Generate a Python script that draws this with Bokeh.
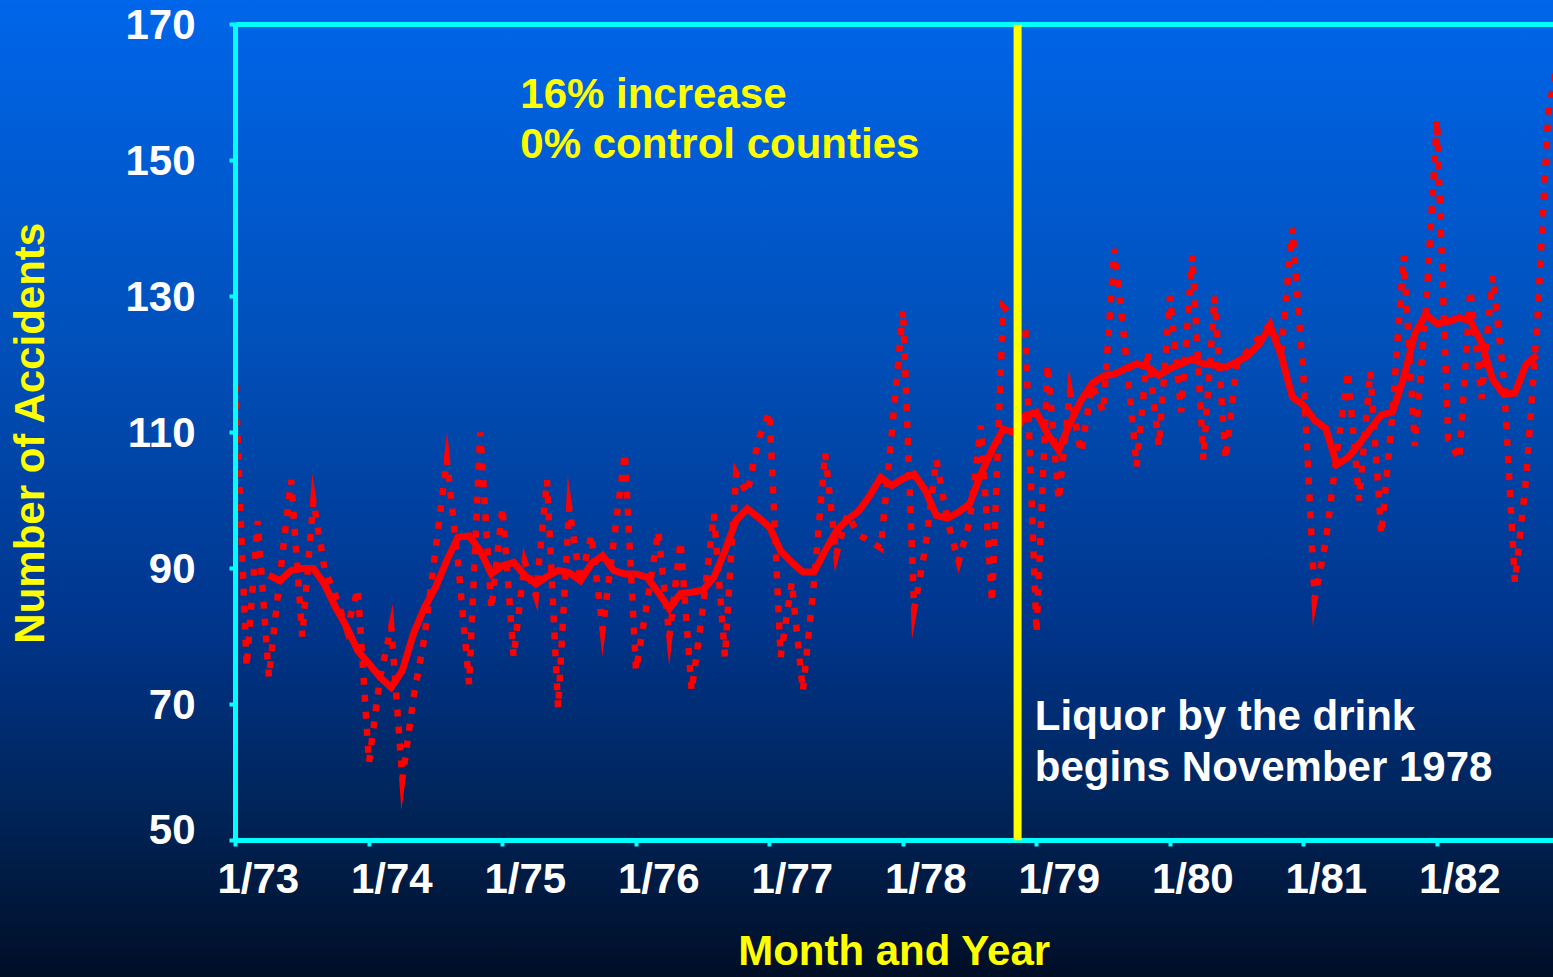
from bokeh.plotting import figure
from bokeh.models import Span, Label, FixedTicker, LinearAxis, Range1d, GlobalInlineStyleSheet
from bokeh.embed import file_html
from bokeh.resources import INLINE

# Monthly accident counts, Jan 1973 onward (dotted series)
monthly_accidents = [
    117, 75.5, 97, 74, 89, 103, 80, 100, 90, 86, 81, 87,
    61.5, 74, 81.5, 59, 71, 80, 93, 106, 91, 73, 110, 84,
    99, 77, 91, 86, 103, 69.5, 99, 88, 95, 81, 94, 107,
    75, 85, 95.5, 80, 94, 72, 84, 98, 77, 104, 101, 109,
    113, 77, 88, 72, 88, 107, 92, 98, 95, 94, 93, 110,
    128, 84, 93, 106, 97, 91, 97, 111, 85, 128.5, 127, 125,
    80.5, 120, 100, 116, 107, 117, 113, 137, 122, 105, 122, 108,
    130, 113, 136, 106, 130, 106, 120, 122, 124, 126, 122, 140,
    118, 85.5, 94, 107, 119, 100, 119, 95, 113, 136, 108, 128,
    156, 109, 106, 131, 115, 133, 118, 88, 103, 126, 157, 166,
]
# Smoothed trend (solid line), starting April 1973
smoothed_accidents = [
    89.0, 88.2, 89.7, 90.0, 90.0, 87.7, 84.3, 81.4, 77.9,
    76.0, 74.0, 72.5, 75.0, 80.4, 84.3, 87.3, 91.2, 94.6, 94.8, 92.6, 89.2,
    90.4, 90.9, 89.0, 87.7, 88.8, 89.7, 89.4, 88.2, 90.7, 91.9, 89.7, 89.2,
    89.2, 88.7, 86.5, 84.1, 86.3, 86.5, 86.8, 88.7, 92.6, 97.1, 98.8, 97.5,
    96.1, 92.6, 90.9, 89.5, 89.5, 92.6, 95.5, 97.2, 98.4, 100.7, 103.4, 102.2,
    103.2, 103.9, 101.5, 97.8, 97.4, 98.3, 99.5, 103.9, 107.4, 110.5, 110.0, 112.5,
    113.0, 109.8, 107.4, 111.3, 114.7, 117.2, 118.3, 118.6, 119.4, 120.1, 119.6, 118.4,
    119.4, 120.1, 120.8, 120.1, 119.9, 119.6, 120.4, 121.3, 123.0, 125.7, 121.3, 115.2,
    114.0, 111.8, 110.6, 105.3, 106.3, 108.3, 110.5, 112.6, 113.0, 118.0, 124.5, 127.4,
    126.0, 126.3, 126.9, 126.4, 123.2, 117.8, 115.6, 115.8, 120.0, 121.4,
]
smooth_start_month = 3
months = list(range(len(monthly_accidents)))
smooth_months = [smooth_start_month + i for i in range(len(smoothed_accidents))]

year_tick_months = [0, 12, 24, 36, 48, 60, 72, 84, 96, 108]
year_tick_labels = ["1/73", "1/74", "1/75", "1/76", "1/77", "1/78", "1/79", "1/80", "1/81", "1/82"]
y_tick_values = [50, 70, 90, 110, 130, 150, 170]
y_tick_labels = ["50", "70", "90", "110", "130", "150", "170"]
event_month = 70.3  # November 1978

CYAN = "#00FFFF"
RED = "#FF0000"
YELLOW = "#FFFF00"
FONT = "Liberation Sans"

css = """
html { height: 100%; overflow: hidden;
  background: linear-gradient(to bottom, #0066EA 0%, #0050BA 35%, #00368E 63%, #002458 83%, #000E26 100%) no-repeat; }
body { background: transparent; overflow: hidden; }
"""

p = figure(width=1553, height=977, output_backend="svg", toolbar_location=None,
           x_range=Range1d(0, 118.47), y_range=Range1d(50, 170),
           min_border_left=235, min_border_right=0, min_border_top=24, min_border_bottom=137)
p.stylesheets = [GlobalInlineStyleSheet(css=css)]
p.background_fill_color = None
p.border_fill_color = None
p.outline_line_color = None
p.grid.visible = False

label_shift = 2.05
xa = p.xaxis[0]
xa.ticker = FixedTicker(ticks=[m + label_shift for m in year_tick_months], minor_ticks=year_tick_months)
xa.major_label_overrides = {m + label_shift: lab for m, lab in zip(year_tick_months, year_tick_labels)}

ya = p.yaxis[0]
y_label_pos = [v + (1.6 if v == 50 else 0) for v in y_tick_values]
ya.ticker = FixedTicker(ticks=y_label_pos, minor_ticks=y_tick_values)
ya.major_label_overrides = {pos: lab for pos, lab in zip(y_label_pos, y_tick_labels)}

for ax in (xa, ya):
    ax.axis_line_color = CYAN
    ax.axis_line_width = 5
    ax.major_tick_line_color = None
    ax.major_tick_out = 6
    ax.major_tick_in = 0
    ax.minor_tick_line_color = CYAN
    ax.minor_tick_line_width = 4
    ax.minor_tick_out = 6
    ax.minor_tick_in = 0
    ax.major_label_text_color = "white"
    ax.major_label_text_font = FONT
    ax.major_label_text_font_style = "bold"
    ax.major_label_text_font_size = "42px"
    ax.axis_label_text_color = YELLOW
    ax.axis_label_text_font = FONT
    ax.axis_label_text_font_style = "bold"
    ax.axis_label_text_font_size = "42px"

xa.major_label_standoff = 8
xa.axis_label = "Month and Year"
xa.axis_label_standoff = 22
ya.major_label_standoff = 34
ya.axis_label = "Number of Accidents"
ya.axis_label_standoff = 69

top_axis = LinearAxis(ticker=FixedTicker(ticks=[]), axis_line_color=CYAN, axis_line_width=5,
                      major_tick_out=0, major_tick_in=0, minor_tick_out=0, minor_tick_in=0,
                      major_label_text_font_size="0px")
p.add_layout(top_axis, "above")

p.line(smooth_months, smoothed_accidents, line_color=RED, line_width=7, line_join="miter")
p.line(months, monthly_accidents, line_color=RED, line_width=6.5, line_dash="7 10", line_join="miter")

p.add_layout(Span(location=event_month, dimension="height", line_color=YELLOW, line_width=8))

def add_text(x, y, text, color):
    p.add_layout(Label(x=x, y=y, text=text, text_color=color, text_font=FONT,
                       text_font_style="bold", text_font_size="42px", text_baseline="alphabetic"))

add_text(25.6, 159.8, "16% increase", YELLOW)
add_text(25.6, 152.5, "0% control counties", YELLOW)
add_text(71.85, 68.35, "Liquor by the drink", "white")
add_text(71.85, 60.85, "begins November 1978", "white")

open("out.html", "w").write(file_html(p, INLINE))
